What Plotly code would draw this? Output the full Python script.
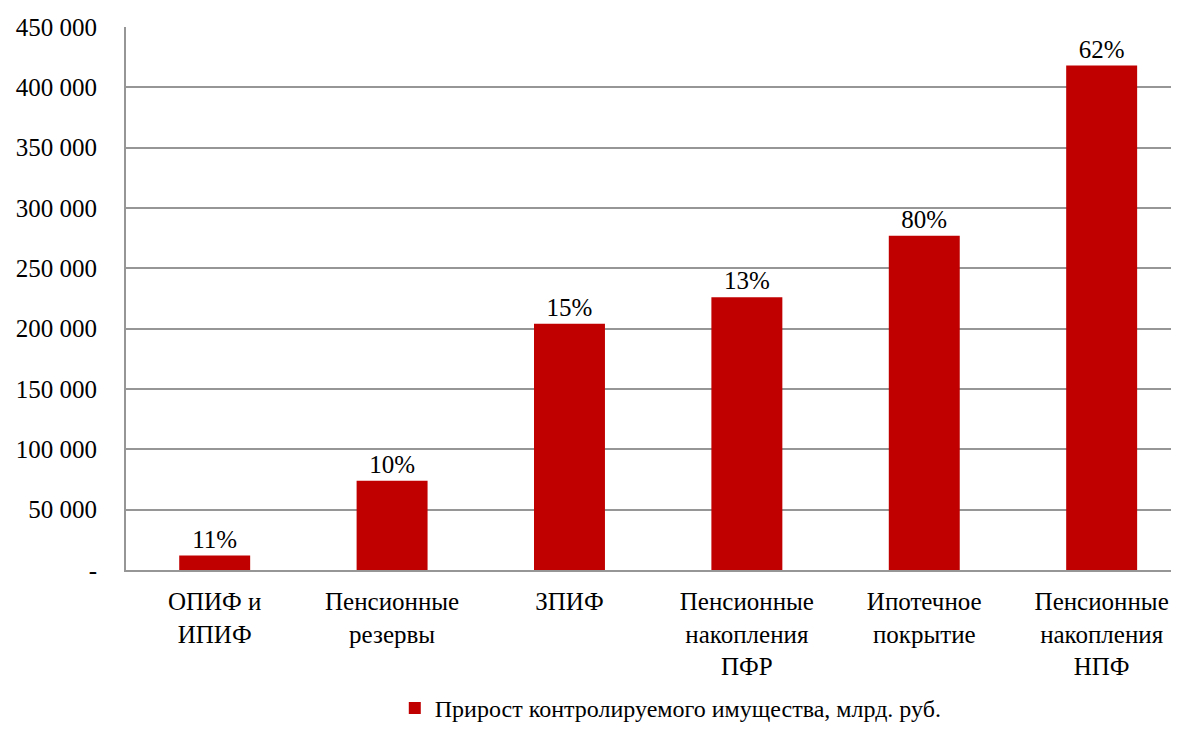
import plotly.graph_objects as go

categories = ["ОПИФ и<br>ИПИФ", "Пенсионные<br>резервы", "ЗПИФ", "Пенсионные<br>накопления<br>ПФР", "Ипотечное<br>покрытие", "Пенсионные<br>накопления<br>НПФ"]
values = [12000, 74000, 204000, 226000, 277000, 418000]
labels = ["11%", "10%", "15%", "13%", "80%", "62%"]
series_name = "Прирост контролируемого имущества, млрд. руб."
tick_vals = [0, 50000, 100000, 150000, 200000, 250000, 300000, 350000, 400000, 450000]
tick_text = ["-", "50 000", "100 000", "150 000", "200 000", "250 000", "300 000", "350 000", "400 000", "450 000"]

FONT = "Liberation Serif"
OFF = 8  # page body offset

fig = go.Figure()
fig.add_trace(go.Bar(
    x=list(range(len(categories))), y=values, name=series_name,
    marker=dict(color="#C00000", line=dict(width=0)),
    width=0.4,
    text=labels, textposition="outside", cliponaxis=False,
    textfont=dict(family=FONT, size=25, color="black"),
))

fig.update_layout(
    width=1179 - OFF, height=731 - OFF,
    margin=dict(l=126 - OFF, r=0, t=27 - OFF, b=161, autoexpand=False),
    paper_bgcolor="white", plot_bgcolor="white",
    font=dict(family=FONT, size=25, color="black"),
    showlegend=True,
    legend=dict(orientation="h", xref="container", yref="container",
                x=0.566, xanchor="center", y=0.0, yanchor="bottom",
                font=dict(family=FONT, size=24, color="black"),
                itemwidth=30, tracegroupgap=0),
    xaxis=dict(range=[-0.5, 5.436], tickvals=list(range(len(categories))), ticktext=categories,
               showgrid=False, showline=True, linecolor="#969696", linewidth=2,
               ticks="", ticklabelstandoff=8, tickfont=dict(family=FONT, size=25, color="black"), automargin=False),
    yaxis=dict(range=[0, 450000], tickvals=tick_vals, ticktext=tick_text,
               showgrid=True, gridcolor="#969696", gridwidth=2,
               showline=True, linecolor="#969696", linewidth=2,
               zeroline=False, ticks="", ticklabelstandoff=22, tickfont=dict(family=FONT, size=25, color="black"), automargin=False),
    bargap=0.6,
)

post = """
var s = document.createElement('style');
s.textContent = "svg text { font-family: 'Liberation Serif', 'Times New Roman', serif !important; }";
document.head.appendChild(s);
"""

fig.write_html("out.html", post_script=post)
